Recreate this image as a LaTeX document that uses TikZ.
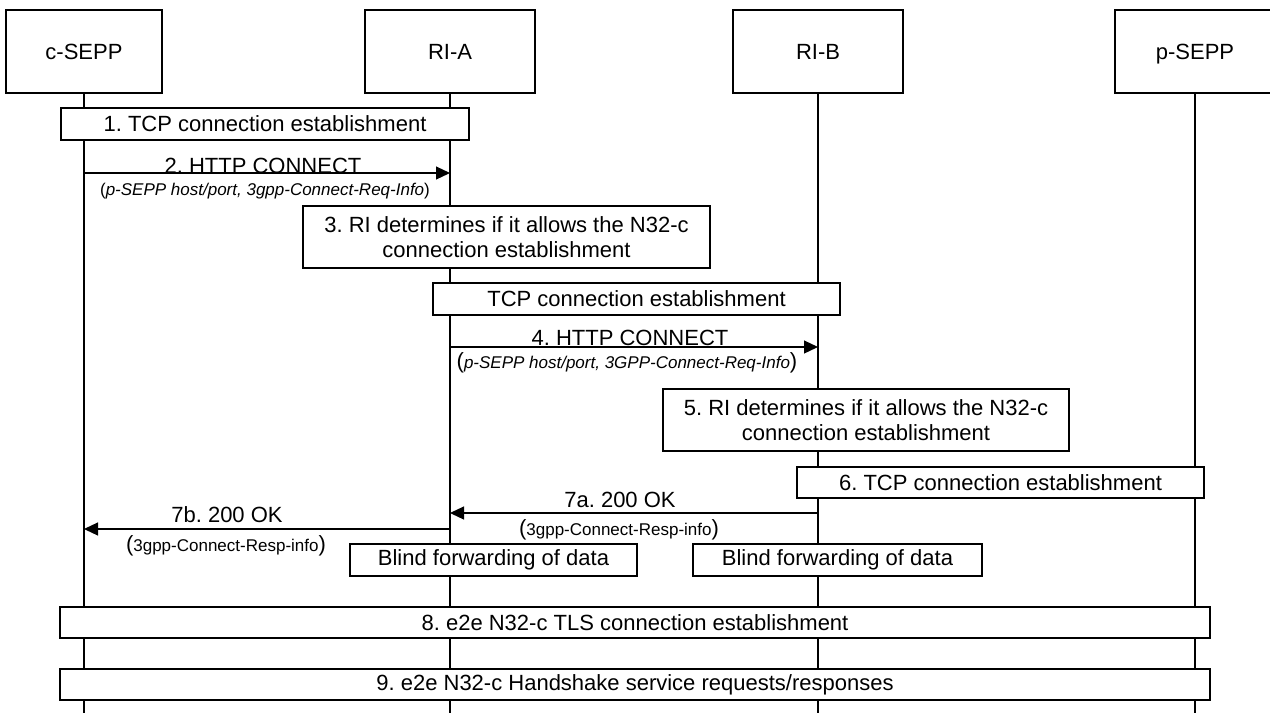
\documentclass[tikz,border=0pt]{standalone}
\usepackage{fontspec}
\setmainfont{Liberation Sans}
\usetikzlibrary{arrows.meta}
\frenchspacing
\newcommand{\bigp}[1]{{\fontsize{22}{25}\selectfont #1}}
\begin{document}
\begin{tikzpicture}[x=1pt,y=-1pt,
  every node/.style={font=\fontsize{22}{25}\selectfont\frenchspacing, inner sep=0pt},
  hdr/.style={draw, line width=1.2pt, fill=white, minimum width=#1, minimum height=83, text height=16pt, text depth=0pt},
  sbox/.style={draw, line width=1.2pt, fill=white, align=center},
  life/.style={line width=1.2pt},
  msg/.style={line width=1.2pt, -{Triangle[length=14pt,width=13pt]}},
  lbl/.style={anchor=base},
  sub/.style={anchor=base, font=\fontsize{17}{20}\selectfont\frenchspacing}]
\useasboundingbox (0,0) rectangle (1270,713);
\clip (0,0) rectangle (1270,713);
\fill[white] (0,0) rectangle (1270,713);
% headers
\node[hdr=156] (cs) at (84,51.5) {c-SEPP};
\node[hdr=170] (ra) at (450,51.5) {RI-A};
\node[hdr=170] (rb) at (818,51.5) {RI-B};
\node[hdr=160] (ps) at (1195,51.5) {p-SEPP};
% lifelines
\coordinate (csE) at (84,713);
\coordinate (raE) at (450,713);
\coordinate (rbE) at (818,713);
\coordinate (psE) at (1195,713);
\draw[life] (cs.south) -- (csE);
\draw[life] (ra.south) -- (raE);
\draw[life] (rb.south) -- (rbE);
\draw[life] (ps.south) -- (psE);
% step 1
\node[sbox, minimum width=408, minimum height=32] (s1) at (265,124) {1. TCP connection establishment};
% step 2
\coordinate (m2a) at (84,173);
\coordinate (m2b) at (450,173);
\draw[msg] (m2a) -- (m2b);
\node[lbl] (l2) at (263,173) {2. HTTP CONNECT};
\node[sub] (t2) at (265,195) {(\textit{p-SEPP host/port, 3gpp-Connect-Req-Info})};
% step 3
\node[sbox, minimum width=407, minimum height=62] (s3) at (506.5,237) {3. RI determines if it allows the N32-c\\connection establishment};
% TCP
\node[sbox, minimum width=407, minimum height=32] (tcp) at (636.5,299) {TCP connection establishment};
% step 4
\coordinate (m4a) at (450,347);
\coordinate (m4b) at (818,347);
\draw[msg] (m4a) -- (m4b);
\node[lbl] (l4) at (630,345) {4. HTTP CONNECT};
\node[sub] (t4) at (627,368) {\bigp{(}\textit{p-SEPP host/port, 3GPP-Connect-Req-Info}\bigp{)}};
% step 5
\node[sbox, minimum width=406, minimum height=62] (s5) at (866,420) {5. RI determines if it allows the N32-c\\connection establishment};
% step 6
\node[sbox, minimum width=407, minimum height=31] (s6) at (1000.5,482.5) {6. TCP connection establishment};
% 7a
\coordinate (m7a) at (818,513);
\coordinate (m7b) at (450,513);
\draw[msg] (m7a) -- (m7b);
\node[lbl] (l7a) at (620,507) {7a. 200 OK};
\node[sub] (t7a) at (619,535) {\bigp{(}3gpp-Connect-Resp-info\bigp{)}};
% 7b
\coordinate (m7c) at (450,529);
\coordinate (m7d) at (84,529);
\draw[msg] (m7c) -- (m7d);
\node[lbl] (l7b) at (227,522) {7b. 200 OK};
\node[sub] (t7b) at (226,551) {\bigp{(}3gpp-Connect-Resp-info\bigp{)}};
% blind forwarding
\node[sbox, minimum width=287, minimum height=32] (bfa) at (493.5,560) {Blind forwarding of data};
\node[sbox, minimum width=289, minimum height=32] (bfb) at (837.5,560) {Blind forwarding of data};
% 8, 9
\node[sbox, minimum width=1150, minimum height=31] (s8) at (635,622.5) {8. e2e N32-c TLS connection establishment};
\node[sbox, minimum width=1150, minimum height=31] (s9) at (635,684.5) {9. e2e N32-c Handshake service requests/responses};
\end{tikzpicture}
\end{document}
